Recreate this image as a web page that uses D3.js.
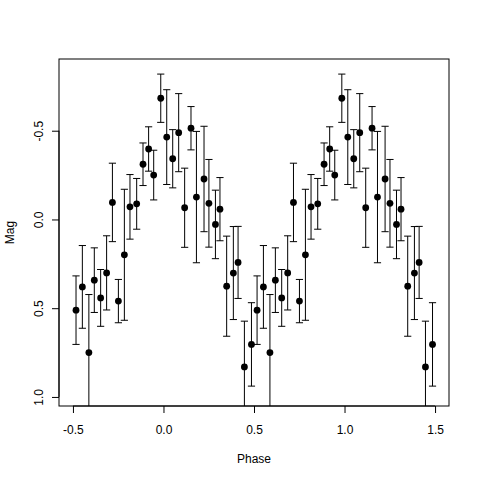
<!DOCTYPE html>
<html>
<head>
<meta charset="utf-8">
<script src="https://cdn.jsdelivr.net/npm/d3@7"></script>
<style>
  body { margin: 0; background: #fff; }
  text { font-family: "Liberation Sans", Arial, Helvetica, sans-serif; }
</style>
</head>
<body>
<div id="chart"></div>
<script>
// phase-folded light curve, each point is drawn at phase and phase + 1
var phase = [-0.483, -0.448, -0.412, -0.382, -0.347, -0.314, -0.282, -0.249, -0.216, -0.185,
  -0.148, -0.113, -0.082, -0.054, -0.015, 0.018, 0.051, 0.084, 0.117, 0.152,
  0.182, 0.224, 0.251, 0.287, 0.312, 0.349, 0.386, 0.412, 0.447, 0.486];
var mag = [0.511, 0.380, 0.750, 0.342, 0.442, 0.301, -0.096, 0.460, 0.199, -0.071,
  -0.088, -0.311, -0.397, -0.250, -0.683, -0.464, -0.342, -0.489, -0.066, -0.514,
  -0.126, -0.228, -0.091, 0.028, -0.058, 0.376, 0.302, 0.242, 0.831, 0.704];
var magErr = [0.193, 0.233, 0.327, 0.182, 0.160, 0.209, 0.221, 0.122, 0.369, 0.182,
  0.143, 0.120, 0.125, 0.140, 0.136, 0.267, 0.164, 0.220, 0.223, 0.122,
  0.370, 0.297, 0.247, 0.193, 0.178, 0.282, 0.262, 0.203, 0.258, 0.235];
var xTicks = [-0.5, 0.0, 0.5, 1.0, 1.5];
var yTicks = [-0.5, 0.0, 0.5, 1.0];

var width = 480, height = 480;
var mLeft = 59, mRight = 449, mTop = 59, mBottom = 406;

var pts = [];
for (var k = 0; k < 2; k++) {
  for (var i in phase) {
    pts.push({p: phase[i] + k, m: mag[i], e: magErr[i]});
  }
}

var x = d3.scaleLinear()
  .domain([-0.577, 1.577])
  .range([mLeft, mRight]);

// magnitude axis is reversed: bright at the top
var y = d3.scaleLinear()
  .domain([-0.904, 1.051])
  .range([mTop, mBottom]);

var fmt = function (d) { return d3.format(".1f")(d).replace("\u2212", "-"); };

var svg = d3.select("#chart")
  .append("svg")
  .attr("width", width)
  .attr("height", height);

svg.append("defs").append("clipPath")
  .attr("id", "plotClip")
  .append("rect")
  .attr("x", mLeft)
  .attr("y", mTop)
  .attr("width", mRight - mLeft)
  .attr("height", mBottom - mTop);

var plot = svg.append("g").attr("clip-path", "url(#plotClip)");

var cap = 3.6;

var bars = plot.selectAll(".err")
  .data(pts)
  .enter().append("g")
  .attr("class", "err")
  .attr("stroke", "#000")
  .attr("stroke-width", 1);

bars.append("line")
  .attr("x1", function (d) { return x(d.p); })
  .attr("x2", function (d) { return x(d.p); })
  .attr("y1", function (d) { return y(d.m - d.e); })
  .attr("y2", function (d) { return y(d.m + d.e); });

bars.append("line")
  .attr("x1", function (d) { return x(d.p) - cap; })
  .attr("x2", function (d) { return x(d.p) + cap; })
  .attr("y1", function (d) { return y(d.m - d.e); })
  .attr("y2", function (d) { return y(d.m - d.e); });

bars.append("line")
  .attr("x1", function (d) { return x(d.p) - cap; })
  .attr("x2", function (d) { return x(d.p) + cap; })
  .attr("y1", function (d) { return y(d.m + d.e); })
  .attr("y2", function (d) { return y(d.m + d.e); });

plot.selectAll(".pt")
  .data(pts)
  .enter().append("circle")
  .attr("class", "pt")
  .attr("cx", function (d) { return x(d.p); })
  .attr("cy", function (d) { return y(d.m); })
  .attr("r", 3.4)
  .attr("fill", "#000");

// box
svg.append("rect")
  .attr("x", mLeft)
  .attr("y", mTop)
  .attr("width", mRight - mLeft)
  .attr("height", mBottom - mTop)
  .attr("fill", "none")
  .attr("stroke", "#000")
  .attr("stroke-width", 1);

// axes, R style: line only spans the ticks
var xAxis = svg.append("g")
  .attr("transform", "translate(0," + mBottom + ")")
  .call(d3.axisBottom(x).tickValues(xTicks).tickFormat(fmt).tickSizeOuter(0).tickSize(7).tickPadding(12));
xAxis.select(".domain")
  .attr("d", "M" + x(xTicks[0]) + ",0H" + x(xTicks[xTicks.length - 1]));

var yAxis = svg.append("g")
  .attr("transform", "translate(" + mLeft + ",0)")
  .call(d3.axisLeft(y).tickValues(yTicks).tickFormat(fmt).tickSizeOuter(0).tickSize(7));
yAxis.select(".domain")
  .attr("d", "M0," + y(yTicks[0]) + "V" + y(yTicks[yTicks.length - 1]));

svg.selectAll(".tick text")
  .attr("font-size", 12)
  .attr("font-family", "Liberation Sans, Arial, sans-serif")
  .attr("fill", "#000");
svg.selectAll(".tick line").attr("stroke", "#000");
svg.selectAll(".domain").attr("stroke", "#000");

yAxis.selectAll(".tick text")
  .attr("x", 0)
  .attr("dy", 0)
  .attr("text-anchor", "middle")
  .attr("transform", "translate(-16,0) rotate(-90)");

svg.append("text")
  .attr("x", (mLeft + mRight) / 2)
  .attr("y", 463)
  .attr("text-anchor", "middle")
  .attr("font-size", 12)
  .text("Phase");

svg.append("text")
  .attr("transform", "translate(14," + (mTop + mBottom) / 2 + ") rotate(-90)")
  .attr("text-anchor", "middle")
  .attr("font-size", 12)
  .text("Mag");
</script>
</body>
</html>
